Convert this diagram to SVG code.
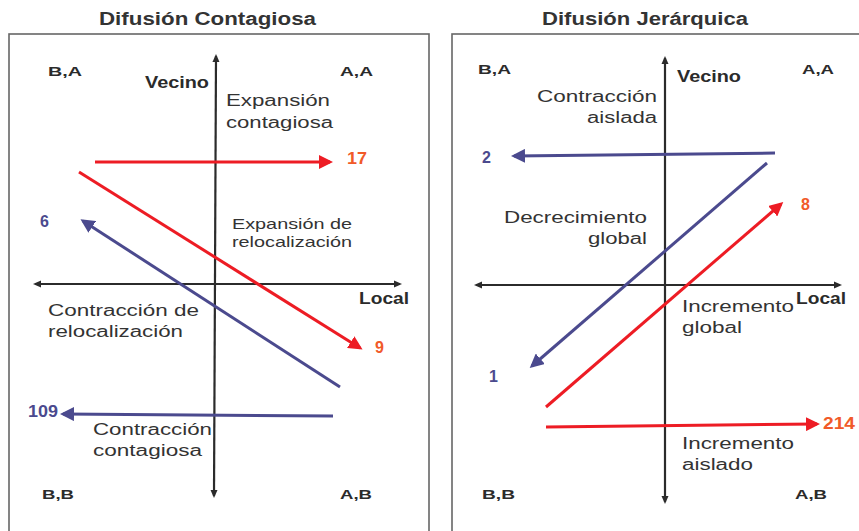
<svg xmlns="http://www.w3.org/2000/svg" width="859" height="531" viewBox="0 0 859 531">
<style>
  .t{font-family:"Liberation Sans",Arial,sans-serif;font-size:18px;font-weight:bold;fill:#333}
  .q{font-family:"Liberation Sans",Arial,sans-serif;font-size:13px;font-weight:bold;fill:#2b2b2b}
  .ax{font-family:"Liberation Sans",Arial,sans-serif;font-size:16px;font-weight:bold;fill:#2b2b2b}
  .lb{font-family:"Liberation Sans",Arial,sans-serif;font-size:16px;fill:#333}
  .lbs{font-family:"Liberation Sans",Arial,sans-serif;font-size:15px;fill:#333}
  .nr{font-family:"Liberation Sans",Arial,sans-serif;font-size:16px;font-weight:bold;fill:#f15a29}
  .nb{font-family:"Liberation Sans",Arial,sans-serif;font-size:16px;font-weight:bold;fill:#4b4a8e}
  .box{fill:#fff;stroke:#666;stroke-width:1.6}
  .axis{stroke:#2b2b2b;stroke-width:2.2;fill:none;marker-start:url(#ak);marker-end:url(#ak)}
  .red{stroke:#ed1c24;stroke-width:3;fill:none;marker-end:url(#ar)}
  .blue{stroke:#4b4a8e;stroke-width:3;fill:none;marker-end:url(#ab)}
</style>
<defs>
  <marker id="ar" markerUnits="userSpaceOnUse" viewBox="0 0 14 14" markerWidth="14" markerHeight="14" refX="11" refY="7" orient="auto"><path d="M0,0 L14,7 L0,14 z" fill="#ed1c24"/></marker>
  <marker id="ab" markerUnits="userSpaceOnUse" viewBox="0 0 14 14" markerWidth="14" markerHeight="14" refX="11" refY="7" orient="auto"><path d="M0,0 L14,7 L0,14 z" fill="#4b4a8e"/></marker>
  <marker id="ak" markerUnits="userSpaceOnUse" viewBox="0 0 8 8" markerWidth="8" markerHeight="8" refX="6" refY="4" orient="auto-start-reverse"><path d="M0,0.5 L8,4 L0,7.5 z" fill="#2b2b2b"/></marker>
</defs>
<rect width="859" height="531" fill="#fff"/>

<g id="titles">
  <text class="t" x="99" y="25" textLength="217" lengthAdjust="spacingAndGlyphs">Difusión Contagiosa</text>
  <text class="t" x="542" y="25" textLength="206" lengthAdjust="spacingAndGlyphs">Difusión Jerárquica</text>
</g>

<g id="panel-contagiosa">
  <rect class="box" x="9" y="34" width="420" height="540"/>
  <line class="axis" x1="216" y1="56" x2="214" y2="496"/>
  <line class="axis" x1="35" y1="284" x2="400" y2="284"/>
  <text class="q" x="48" y="76" textLength="34" lengthAdjust="spacingAndGlyphs">B,A</text>
  <text class="q" x="340" y="76" textLength="33" lengthAdjust="spacingAndGlyphs">A,A</text>
  <text class="q" x="42" y="499" textLength="32" lengthAdjust="spacingAndGlyphs">B,B</text>
  <text class="q" x="340" y="499" textLength="32" lengthAdjust="spacingAndGlyphs">A,B</text>
  <text class="ax" x="145" y="88" textLength="64" lengthAdjust="spacingAndGlyphs">Vecino</text>
  <text class="ax" x="359" y="304" textLength="50" lengthAdjust="spacingAndGlyphs">Local</text>
  <text class="lb" x="226" y="106" textLength="104" lengthAdjust="spacingAndGlyphs">Expansión</text>
  <text class="lb" x="226" y="128" textLength="107" lengthAdjust="spacingAndGlyphs">contagiosa</text>
  <text class="lbs" x="232" y="229" textLength="120" lengthAdjust="spacingAndGlyphs">Expansión de</text>
  <text class="lbs" x="232" y="247" textLength="120" lengthAdjust="spacingAndGlyphs">relocalización</text>
  <text class="lb" x="48" y="316" textLength="151" lengthAdjust="spacingAndGlyphs">Contracción de</text>
  <text class="lb" x="48" y="337" textLength="135" lengthAdjust="spacingAndGlyphs">relocalización</text>
  <text class="lb" x="93" y="435" textLength="119" lengthAdjust="spacingAndGlyphs">Contracción</text>
  <text class="lb" x="93" y="456" textLength="109" lengthAdjust="spacingAndGlyphs">contagiosa</text>
  <text class="nr" x="347" y="164" textLength="20" lengthAdjust="spacingAndGlyphs">17</text>
  <text class="nr" x="375" y="353">9</text>
  <text class="nb" x="40" y="227">6</text>
  <text class="nb" x="28" y="417" textLength="30" lengthAdjust="spacingAndGlyphs">109</text>
</g>

<g id="panel-jerarquica">
  <rect class="box" x="452" y="34" width="440" height="540"/>
  <line class="axis" x1="665" y1="58" x2="665" y2="502"/>
  <line class="axis" x1="476" y1="285" x2="840" y2="285"/>
  <text class="q" x="478" y="74" textLength="33" lengthAdjust="spacingAndGlyphs">B,A</text>
  <text class="q" x="802" y="74" textLength="32" lengthAdjust="spacingAndGlyphs">A,A</text>
  <text class="q" x="482" y="499" textLength="33" lengthAdjust="spacingAndGlyphs">B,B</text>
  <text class="q" x="795" y="499" textLength="32" lengthAdjust="spacingAndGlyphs">A,B</text>
  <text class="ax" x="677" y="82" textLength="64" lengthAdjust="spacingAndGlyphs">Vecino</text>
  <text class="ax" x="796" y="304" textLength="50" lengthAdjust="spacingAndGlyphs">Local</text>
  <text class="lb" x="537" y="102" textLength="120" lengthAdjust="spacingAndGlyphs">Contracción</text>
  <text class="lb" x="587" y="123" textLength="70" lengthAdjust="spacingAndGlyphs">aislada</text>
  <text class="lb" x="504" y="223" textLength="143" lengthAdjust="spacingAndGlyphs">Decrecimiento</text>
  <text class="lb" x="588" y="244" textLength="59" lengthAdjust="spacingAndGlyphs">global</text>
  <text class="lb" x="682" y="312" textLength="112" lengthAdjust="spacingAndGlyphs">Incremento</text>
  <text class="lb" x="682" y="333" textLength="60" lengthAdjust="spacingAndGlyphs">global</text>
  <text class="lb" x="682" y="449" textLength="112" lengthAdjust="spacingAndGlyphs">Incremento</text>
  <text class="lb" x="682" y="470" textLength="71" lengthAdjust="spacingAndGlyphs">aislado</text>
  <text class="nb" x="482" y="163">2</text>
  <text class="nr" x="801" y="210">8</text>
  <text class="nb" x="489" y="382">1</text>
  <text class="nr" x="823" y="429" textLength="32" lengthAdjust="spacingAndGlyphs">214</text>
</g>

<g id="connectors">
  <line class="red" x1="95" y1="162" x2="330" y2="162"/>
  <line class="red" x1="79" y1="172" x2="360" y2="348"/>
  <line class="blue" x1="340" y1="387" x2="83" y2="221"/>
  <line class="blue" x1="333" y1="416" x2="63" y2="414"/>
  <line class="blue" x1="775" y1="153" x2="514" y2="156"/>
  <line class="blue" x1="767" y1="163" x2="532" y2="366"/>
  <line class="red" x1="546" y1="407" x2="781" y2="204"/>
  <line class="red" x1="546" y1="427" x2="817" y2="424"/>
</g>
</svg>
